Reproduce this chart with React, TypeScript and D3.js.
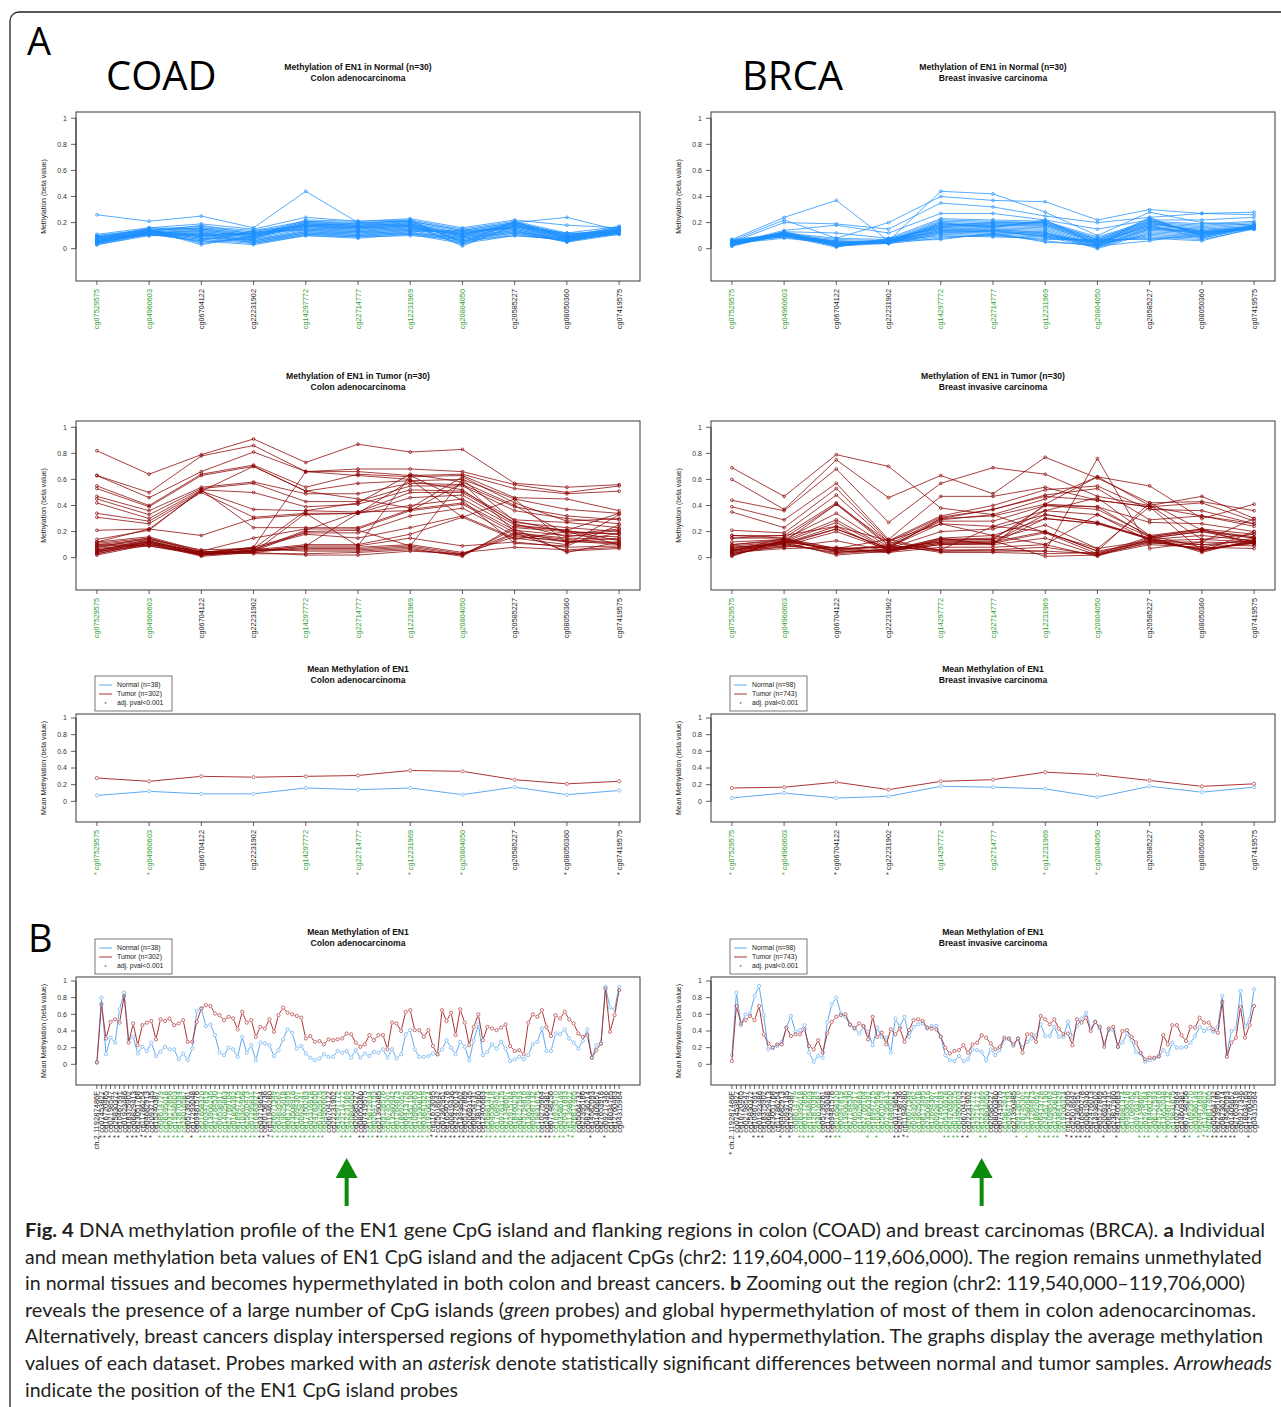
import React from "react";
import * as d3 from "d3";

// ---------- data: panel A (11 probes around the EN1 CpG island) ----------
const probes = ["cg07529575", "cg04960603", "cg06704122", "cg22231902", "cg14297772", "cg22714777",
  "cg12231969", "cg20804050", "cg20585227", "cg08050360", "cg07419575"];
const islandProbes = ["cg07529575", "cg04960603", "cg14297772", "cg22714777", "cg12231969", "cg20804050"];

// individual samples (n=30), beta values per probe
const normalCoad = [
  [.26, .21, .25, .16, .44, .20, .21, .14, .20, .24, .14],
  [.11, .16, .19, .15, .24, .21, .23, .16, .22, .18, .16],
  [.10, .15, .17, .14, .21, .19, .22, .15, .21, .12, .17],
  [.09, .14, .16, .13, .20, .18, .21, .14, .20, .11, .15],
  [.08, .13, .15, .12, .19, .17, .20, .13, .19, .10, .14],
  [.07, .12, .14, .11, .18, .16, .19, .12, .18, .09, .13],
  [.06, .13, .13, .10, .17, .15, .18, .11, .17, .08, .12],
  [.05, .12, .12, .09, .16, .14, .17, .10, .16, .07, .13],
  [.04, .11, .11, .08, .15, .13, .16, .09, .15, .06, .12],
  [.03, .10, .10, .07, .14, .12, .15, .08, .14, .05, .11],
  [.08, .14, .09, .06, .13, .11, .14, .07, .13, .08, .14],
  [.07, .13, .08, .05, .12, .10, .13, .06, .12, .07, .13],
  [.06, .12, .07, .04, .11, .09, .12, .05, .11, .06, .12],
  [.05, .11, .06, .03, .10, .08, .11, .04, .10, .07, .13],
  [.04, .12, .05, .08, .18, .17, .18, .03, .17, .08, .14],
  [.09, .15, .04, .09, .19, .18, .19, .02, .18, .09, .15],
  [.10, .14, .03, .10, .17, .16, .17, .10, .19, .10, .16],
  [.08, .13, .11, .11, .16, .15, .16, .11, .20, .11, .14],
  [.07, .12, .10, .12, .15, .14, .15, .12, .17, .09, .13],
  [.06, .14, .09, .13, .14, .13, .14, .13, .16, .08, .12],
  [.05, .13, .08, .07, .13, .12, .13, .14, .15, .07, .11],
  [.04, .12, .13, .06, .12, .11, .12, .09, .14, .06, .12],
  [.03, .11, .12, .05, .11, .10, .11, .08, .13, .05, .13],
  [.09, .10, .11, .04, .10, .09, .10, .07, .12, .06, .14],
  [.08, .15, .14, .08, .20, .19, .20, .06, .10, .07, .15],
  [.07, .16, .15, .09, .21, .20, .21, .05, .21, .08, .16],
  [.06, .14, .16, .10, .22, .21, .22, .04, .20, .09, .17],
  [.05, .13, .18, .11, .19, .18, .19, .11, .19, .10, .14],
  [.04, .12, .07, .12, .18, .17, .18, .10, .18, .11, .13],
  [.06, .11, .06, .14, .17, .16, .17, .09, .17, .12, .12],
];

const tumorCoad = [
  [.82, .64, .79, .91, .73, .87, .81, .83, .57, .54, .56],
  [.63, .50, .78, .86, .66, .68, .68, .66, .56, .50, .55],
  [.63, .46, .66, .81, .66, .66, .63, .64, .53, .49, .51],
  [.55, .40, .64, .71, .54, .64, .62, .63, .46, .45, .36],
  [.53, .39, .63, .70, .51, .57, .59, .60, .45, .37, .34],
  [.47, .36, .54, .58, .49, .49, .57, .56, .39, .32, .29],
  [.45, .33, .53, .57, .43, .43, .55, .55, .36, .30, .26],
  [.42, .30, .52, .50, .39, .41, .52, .51, .29, .27, .23],
  [.34, .28, .51, .37, .36, .35, .50, .50, .27, .23, .20],
  [.31, .26, .50, .31, .34, .34, .46, .48, .25, .21, .34],
  [.21, .22, .17, .30, .33, .34, .40, .45, .23, .20, .18],
  [.14, .21, .52, .23, .23, .23, .37, .42, .21, .17, .16],
  [.12, .16, .05, .15, .22, .22, .36, .41, .19, .15, .14],
  [.11, .15, .04, .08, .19, .19, .32, .38, .17, .12, .12],
  [.10, .14, .06, .07, .18, .15, .23, .32, .15, .10, .33],
  [.09, .13, .03, .06, .10, .10, .18, .31, .14, .20, .10],
  [.08, .12, .02, .05, .09, .09, .15, .09, .12, .08, .09],
  [.07, .11, .01, .04, .08, .08, .10, .04, .08, .06, .08],
  [.06, .10, .03, .05, .07, .07, .09, .03, .19, .05, .07],
  [.05, .09, .02, .06, .06, .06, .08, .02, .22, .04, .12],
  [.04, .12, .04, .07, .05, .05, .07, .01, .24, .21, .13],
  [.03, .11, .05, .03, .03, .04, .06, .02, .18, .14, .11],
  [.02, .10, .03, .04, .02, .02, .05, .03, .16, .13, .10],
  [.04, .13, .02, .05, .20, .21, .09, .60, .28, .20, .18],
  [.05, .14, .03, .06, .21, .35, .36, .57, .20, .12, .15],
  [.06, .12, .04, .05, .09, .34, .59, .52, .26, .16, .21],
  [.03, .11, .02, .04, .34, .09, .63, .44, .11, .09, .25],
  [.10, .09, .03, .08, .66, .63, .60, .31, .45, .11, .19],
  [.08, .15, .04, .07, .36, .42, .64, .58, .40, .18, .22],
  [.12, .22, .51, .70, .51, .45, .38, .62, .42, .28, .30],
];

const normalBrca = [
  [.07, .24, .37, .06, .44, .42, .28, .10, .28, .20, .18],
  [.06, .22, .08, .20, .40, .37, .36, .22, .30, .27, .28],
  [.05, .20, .19, .15, .35, .32, .25, .20, .24, .27, .26],
  [.04, .14, .18, .12, .27, .27, .22, .15, .22, .22, .24],
  [.03, .13, .12, .08, .23, .22, .21, .09, .21, .19, .21],
  [.02, .12, .08, .07, .22, .21, .20, .08, .20, .18, .20],
  [.07, .11, .07, .06, .21, .20, .19, .07, .19, .17, .19],
  [.06, .10, .06, .05, .20, .19, .18, .06, .18, .16, .18],
  [.05, .09, .05, .04, .19, .18, .17, .05, .17, .15, .17],
  [.04, .08, .04, .05, .18, .17, .16, .04, .16, .14, .16],
  [.03, .12, .03, .06, .17, .16, .15, .03, .15, .13, .15],
  [.02, .11, .02, .07, .16, .15, .14, .02, .14, .12, .17],
  [.06, .10, .01, .08, .15, .14, .13, .01, .13, .11, .18],
  [.05, .09, .03, .05, .14, .13, .12, .00, .12, .10, .16],
  [.04, .12, .04, .06, .13, .12, .11, .03, .11, .09, .17],
  [.03, .13, .05, .05, .12, .11, .10, .04, .10, .08, .16],
  [.05, .11, .02, .04, .11, .10, .09, .05, .09, .07, .15],
  [.04, .10, .03, .06, .10, .09, .08, .06, .08, .06, .16],
  [.06, .12, .04, .05, .09, .10, .07, .07, .07, .10, .17],
  [.03, .11, .05, .04, .08, .11, .06, .02, .06, .12, .16],
  [.04, .13, .02, .06, .07, .12, .05, .03, .19, .14, .17],
  [.05, .12, .03, .05, .16, .18, .18, .04, .20, .13, .16],
  [.03, .10, .04, .07, .17, .19, .19, .05, .21, .12, .15],
  [.04, .11, .02, .06, .18, .20, .20, .06, .22, .11, .17],
  [.05, .12, .03, .05, .19, .17, .21, .07, .23, .10, .16],
  [.06, .11, .04, .06, .20, .16, .22, .03, .24, .09, .18],
  [.04, .10, .05, .05, .15, .15, .12, .04, .18, .08, .17],
  [.03, .12, .03, .06, .14, .14, .11, .05, .17, .11, .16],
  [.05, .11, .02, .05, .13, .13, .10, .02, .16, .13, .15],
  [.04, .10, .06, .04, .12, .14, .09, .01, .15, .12, .16],
];

const tumorBrca = [
  [.69, .47, .79, .70, .38, .33, .45, .62, .55, .30, .41],
  [.60, .37, .75, .46, .63, .49, .77, .61, .42, .43, .36],
  [.44, .36, .68, .27, .57, .69, .64, .47, .40, .47, .30],
  [.39, .29, .57, .14, .47, .47, .54, .44, .39, .42, .28],
  [.35, .23, .53, .13, .32, .40, .52, .55, .37, .36, .26],
  [.21, .19, .48, .12, .31, .37, .48, .53, .29, .32, .24],
  [.17, .17, .42, .10, .30, .32, .41, .39, .27, .26, .20],
  [.15, .15, .41, .09, .28, .28, .40, .37, .17, .22, .18],
  [.12, .14, .34, .08, .26, .24, .36, .33, .16, .21, .16],
  [.10, .13, .29, .07, .20, .22, .33, .27, .15, .20, .15],
  [.09, .12, .27, .06, .15, .17, .30, .26, .14, .17, .13],
  [.08, .11, .24, .05, .14, .14, .25, .07, .13, .14, .12],
  [.07, .10, .22, .07, .12, .12, .20, .05, .12, .12, .11],
  [.06, .09, .20, .06, .11, .11, .19, .03, .11, .10, .09],
  [.05, .08, .13, .05, .10, .10, .15, .02, .10, .08, .07],
  [.04, .07, .08, .04, .08, .08, .10, .01, .14, .06, .12],
  [.03, .12, .07, .08, .06, .06, .08, .02, .15, .05, .13],
  [.02, .13, .06, .09, .05, .05, .05, .03, .16, .04, .14],
  [.01, .14, .05, .10, .04, .04, .03, .04, .13, .06, .12],
  [.05, .15, .04, .07, .12, .13, .01, .02, .12, .07, .11],
  [.06, .11, .03, .06, .11, .12, .33, .27, .14, .10, .13],
  [.07, .12, .02, .05, .10, .11, .30, .26, .15, .20, .12],
  [.08, .10, .04, .06, .13, .14, .40, .39, .16, .22, .10],
  [.04, .13, .05, .04, .14, .15, .36, .46, .17, .08, .15],
  [.03, .09, .06, .05, .15, .10, .41, .62, .40, .14, .18],
  [.02, .11, .22, .07, .30, .37, .47, .44, .39, .05, .20],
  [.05, .12, .41, .12, .06, .24, .20, .05, .42, .21, .15],
  [.10, .14, .07, .08, .29, .33, .19, .07, .39, .32, .26],
  [.15, .17, .24, .13, .26, .17, .10, .33, .13, .06, .11],
  [.17, .15, .07, .14, .05, .06, .05, .76, .07, .12, .30],
];

// means per probe
const meanNormalCoad = [.07, .12, .09, .09, .16, .14, .16, .08, .17, .08, .13];
const meanTumorCoad = [.28, .24, .30, .29, .30, .31, .37, .36, .26, .21, .24];
const meanNormalBrca = [.04, .10, .04, .06, .18, .17, .15, .05, .18, .11, .17];
const meanTumorBrca = [.16, .17, .23, .14, .24, .26, .35, .32, .25, .18, .21];
const sigCoadA = ["cg07529575", "cg04960603", "cg22714777", "cg12231969", "cg20804050", "cg08050360", "cg07419575"];
const sigBrcaA = ["cg07529575", "cg04960603", "cg06704122", "cg22231902", "cg12231969", "cg20804050"];

// ---------- data: panel B (zoomed-out region) ----------
const probesB = [
  "ch.2.119287486F", "cg07453827", "cg16720465", "cg02198547", "cg25830372", "cg10467591", "cg01923486", "cg18375902",
  "cg06829413", "cg23051768", "cg11786254", "cg04682913", "cg20937145", "cg15240387", "cg08614729", "cg26395018",
  "cg03172856", "cg19548603", "cg12870394", "cg24016587", "cg05739261", "cg17293048", "cg09481576", "cg21658320",
  "cg00347819", "cg13906245", "cg27184530", "cg06538917", "cg14025863", "cg22769104", "cg01856392", "cg18947215",
  "cg10362958", "cg25610473", "cg07295831", "cg16483027", "cg03719654", "cg20158736", "cg11946280", "cg26071349",
  "cg04839562", "cg19625018", "cg08173495", "cg23508916", "cg12694307", "cg00928741", "cg17450283", "cg05316978",
  "cg24783650", "cg07529575", "cg04960603", "cg06704122", "cg22231902", "cg14297772", "cg22714777", "cg12231969",
  "cg20804050", "cg20585227", "cg08050360", "cg07419575", "cg15872634", "cg02647193", "cg21390485", "cg09128576",
  "cg26745301", "cg13580942", "cg01264873", "cg18692057", "cg06413728", "cg24357190", "cg10985463", "cg27530816",
  "cg03841529", "cg19206374", "cg11673095", "cg25018642", "cg07362951", "cg16540278", "cg00819436", "cg22476013",
  "cg14938502", "cg05127869", "cg20693145", "cg08254731", "cg23817960", "cg12405683", "cg26981374", "cg04536218",
  "cg17089452", "cg09763125", "cg21348607", "cg02915784", "cg18460239", "cg06127593", "cg25794816", "cg13652048",
  "cg00487132", "cg19831675", "cg10275964", "cg24609381", "cg07148256", "cg16923570", "cg03586149", "cg20471893",
  "cg11398627", "cg26817405", "cg05064732", "cg22395186", "cg08736214", "cg14582093", "cg01409657", "cg27653918",
  "cg09217346", "cg18034765", "cg12760483", "cg04315964",
];
const islandRangesB = "14-19,23-35,39-50,53-56,60-61,63-73,86-97,101-105";
const sigRangesCoadB = "1-5,7-12,14-19,21,23-50,54-56,58-105,109,112";
const sigRangesBrcaB = "0,2,5-7,11,13,15-18,21-24,30,32,36-39,47-52,55-56,63,65,68-72,74-79,82,85,90-92,94,96,98,100-101,103-111,114";

const bNormalCoad = [
  .03, .80, .12, .32, .26, .66, .86, .30, .33, .13, .21, .16, .26, .10, .15, .21, .18, .18, .06, .13,
  .05, .19, .64, .67, .46, .48, .35, .14, .11, .20, .18, .09, .33, .14, .23, .05, .26, .25, .23, .10,
  .17, .30, .42, .38, .19, .22, .13, .08, .05,
  .07, .12, .09, .09, .16, .14, .16, .08, .17, .08, .13,
  .10, .15, .14, .18, .08, .18, .07, .12, .36, .41, .18, .09, .09, .10, .13, .12, .18, .29, .20, .12,
  .27, .21, .05, .29, .48, .11, .15, .24, .19, .27, .19, .04, .06, .09, .06, .11, .24, .27, .43, .16,
  .16, .37, .36, .42, .31, .26, .19, .28, .42, .08, .23, .25, .93, .68, .66, .93,
];
const bTumorCoad = [
  .02, .72, .31, .51, .54, .50, .82, .26, .49, .23, .47, .50, .52, .30, .54, .52, .55, .47, .49, .53,
  .27, .27, .51, .67, .71, .70, .61, .59, .53, .57, .55, .42, .63, .50, .53, .33, .45, .43, .54, .39,
  .59, .68, .62, .60, .58, .56, .31, .34, .27,
  .28, .24, .30, .29, .30, .31, .37, .36, .26, .21, .24,
  .35, .29, .35, .35, .18, .50, .49, .40, .63, .65, .41, .41, .33, .41, .22, .12, .65, .52, .62, .35,
  .66, .50, .23, .45, .60, .29, .45, .43, .41, .44, .48, .22, .16, .17, .12, .50, .60, .57, .65, .45,
  .34, .59, .55, .63, .54, .49, .37, .33, .35, .08, .17, .25, .91, .39, .59, .89,
];
const bNormalBrca = [
  .11, .86, .47, .60, .61, .82, .94, .59, .18, .20, .22, .27, .44, .58, .39, .41, .47, .14, .03, .10,
  .08, .50, .72, .80, .61, .57, .47, .44, .37, .45, .39, .23, .44, .33, .32, .14, .55, .45, .57, .33,
  .45, .48, .49, .43, .46, .46, .33, .11, .05,
  .04, .10, .04, .06, .18, .17, .15, .05, .18, .11, .17,
  .30, .30, .22, .31, .20, .27, .31, .35, .48, .34, .34, .45, .33, .33, .51, .32, .46, .55, .62, .43,
  .51, .43, .24, .41, .41, .21, .26, .37, .29, .15, .13, .03, .05, .07, .09, .17, .12, .26, .20, .20,
  .21, .26, .34, .45, .40, .43, .39, .45, .82, .12, .40, .43, .88, .45, .54, .90,
];
const bTumorBrca = [
  .04, .70, .49, .53, .58, .53, .70, .36, .25, .20, .24, .24, .44, .34, .36, .36, .42, .22, .18, .29,
  .14, .37, .51, .57, .59, .60, .48, .43, .49, .46, .30, .57, .33, .38, .24, .42, .36, .43, .27, .41,
  .53, .54, .52, .44, .43, .42, .33, .20, .13,
  .16, .17, .23, .14, .24, .26, .35, .32, .25, .18, .21,
  .32, .31, .24, .31, .14, .36, .36, .27, .58, .54, .48, .54, .43, .36, .37, .23, .54, .50, .56, .40,
  .51, .45, .21, .43, .45, .21, .40, .41, .33, .26, .14, .06, .08, .08, .10, .35, .24, .47, .47, .35,
  .28, .45, .44, .56, .50, .50, .42, .38, .75, .09, .26, .32, .69, .32, .47, .70,
];
const arrowProbe = "cg12231969";

// ---------- caption ----------
type Span = [string, "" | "b" | "i"];
const captionLines: Span[][] = [
  [["Fig. 4", "b"], [" DNA methylation profile of the EN1 gene CpG island and flanking regions in colon (COAD) and breast carcinomas (BRCA). ", ""], ["a", "b"], [" Individual", ""]],
  [["and mean methylation beta values of EN1 CpG island and the adjacent CpGs (chr2: 119,604,000–119,606,000). The region remains unmethylated", ""]],
  [["in normal tissues and becomes hypermethylated in both colon and breast cancers. ", ""], ["b", "b"], [" Zooming out the region (chr2: 119,540,000–119,706,000)", ""]],
  [["reveals the presence of a large number of CpG islands (", ""], ["green", "i"], [" probes) and global hypermethylation of most of them in colon adenocarcinomas.", ""]],
  [["Alternatively, breast cancers display interspersed regions of hypomethylation and hypermethylation. The graphs display the average methylation", ""]],
  [["values of each dataset. Probes marked with an ", ""], ["asterisk", "i"], [" denote statistically significant differences between normal and tumor samples. ", ""], ["Arrowheads", "i"]],
  [["indicate the position of the EN1 CpG island probes", ""]],
];
const captionEnds = [1265, 1262, 1245, 1256, 1263, 1272, 0];

// ---------- styling ----------
const W = 1281, H = 1407;
const PANEL_W = 564;
const COLS = [76, 711];
const FONT = "'Liberation Sans', Arial, Helvetica, sans-serif";
const C_NORMAL = "#1e90ff";
const C_TUMOR = "#8b0000";
const C_NORMAL_MEAN = "#5eaaf0";
const C_TUMOR_MEAN = "#ad3434";
const C_GREEN = "#2f9e2f";
const AXIS = "#3a3a3a";
const Y_TICKS = [0, 0.2, 0.4, 0.6, 0.8, 1];

const expand = (s: string) =>
  new Set(s.split(",").flatMap((p) => {
    const [a, b] = p.split("-").map(Number);
    return d3.range(a, (b ?? a) + 1);
  }));

type Lbl = { text: string; green: boolean };
type Series = { rows: number[][]; color: string; width: number; r: number; gap: number };

// R type="b" style: segments stop short of the points
const gapPath = (pts: [number, number][], gap: number) => {
  if (gap === 0) return d3.line()(pts) ?? "";
  let d = "";
  for (let i = 1; i < pts.length; i++) {
    const [x1, y1] = pts[i - 1], [x2, y2] = pts[i];
    const dx = x2 - x1, dy = y2 - y1, L = Math.hypot(dx, dy);
    if (L <= 2 * gap) continue;
    const ux = dx / L, uy = dy / L;
    d += `M${x1 + ux * gap},${y1 + uy * gap}L${x2 - ux * gap},${y2 - uy * gap}`;
  }
  return d;
};

function Panel(props: {
  left: number; top: number; bottom: number; labels: Lbl[]; series: Series[];
  title: [string, string]; yLabel: string; labelOffset: number; labelSize: number;
  legend?: [string, string];
}) {
  const { left, top, bottom, labels, series, title, yLabel, labelOffset, labelSize, legend } = props;
  const right = left + PANEL_W;
  const n = labels.length;
  const pad = 0.04 * (n - 1);
  const x = d3.scaleLinear().domain([-pad, n - 1 + pad]).range([left, right]);
  const y = d3.scaleLinear().domain([-0.248, 1.048]).range([bottom, top]);
  const cx = (left + right) / 2;
  const fmt = d3.format("~g");

  return (
    <g fontFamily={FONT}>
      <text x={cx} y={top - 42} textAnchor="middle" fontSize={8.6} fontWeight="bold" fill="#111">{title[0]}</text>
      <text x={cx} y={top - 31} textAnchor="middle" fontSize={8.6} fontWeight="bold" fill="#111">{title[1]}</text>

      {legend && (
        <g transform={`translate(${left + 19},${top - 38})`} fontSize={6.8} fill="#222">
          <rect width={77} height={35} fill="white" stroke="#555" strokeWidth={0.8} />
          <line x1={4} x2={17} y1={9} y2={9} stroke={C_NORMAL_MEAN} strokeWidth={1} />
          <line x1={4} x2={17} y1={18} y2={18} stroke={C_TUMOR_MEAN} strokeWidth={1} />
          <text x={10.5} y={29.5} textAnchor="middle" fontSize={5}>*</text>
          <text x={22} y={11.3}>{legend[0]}</text>
          <text x={22} y={20.3}>{legend[1]}</text>
          <text x={22} y={29.3}>adj. pval&lt;0.001</text>
        </g>
      )}

      {/* series */}
      {series.map((s, si) => (
        <g key={si} stroke={s.color} fill="none">
          {s.rows.map((row, ri) => {
            const pts = row.map((v, i) => [x(i), y(v)] as [number, number]);
            return (
              <g key={ri}>
                <path d={gapPath(pts, s.gap)} strokeWidth={s.width} />
                {pts.map(([px, py], i) => (
                  <circle key={i} cx={px} cy={py} r={s.r} strokeWidth={0.7} />
                ))}
              </g>
            );
          })}
        </g>
      ))}

      <rect x={left} y={top} width={PANEL_W} height={bottom - top} fill="none" stroke={AXIS} strokeWidth={1} />

      {/* y axis */}
      <line x1={left} x2={left} y1={y(0)} y2={y(1)} stroke={AXIS} strokeWidth={1} />
      {Y_TICKS.map((t) => (
        <g key={t}>
          <line x1={left - 5} x2={left} y1={y(t)} y2={y(t)} stroke={AXIS} strokeWidth={0.8} />
          <text x={left - 9} y={y(t)} dy="0.35em" textAnchor="end" fontSize={7} fill="#333">{fmt(t)}</text>
        </g>
      ))}
      <text transform={`translate(${left - 30},${(top + bottom) / 2}) rotate(-90)`} textAnchor="middle"
        fontSize={7} fill="#222">{yLabel}</text>

      {/* x axis */}
      {labels.map((l, i) => (
        <g key={i}>
          <line x1={x(i)} x2={x(i)} y1={bottom} y2={bottom + 4} stroke={AXIS} strokeWidth={0.8} />
          <text transform={`translate(${x(i)},${bottom + labelOffset}) rotate(-90)`} textAnchor="end"
            dominantBaseline="central" fontSize={labelSize} fill={l.green ? C_GREEN : "#222"}>{l.text}</text>
        </g>
      ))}
    </g>
  );
}

export default function App() {
  const labelsPlain: Lbl[] = probes.map((p) => ({ text: p, green: islandProbes.includes(p) }));
  const labelsSig = (sig: string[]): Lbl[] =>
    probes.map((p) => ({ text: (sig.includes(p) ? "* " : "") + p, green: islandProbes.includes(p) }));
  const islandB = expand(islandRangesB);
  const labelsB = (sig: Set<number>): Lbl[] =>
    probesB.map((p, i) => ({ text: (sig.has(i) ? "* " : "") + p, green: islandB.has(i) }));

  const ind = (rows: number[][], color: string): Series[] => [{ rows, color, width: 0.75, r: 1.4, gap: 0 }];
  const mean = (nrm: number[], tum: number[]): Series[] => [
    { rows: [nrm], color: C_NORMAL_MEAN, width: 1, r: 1.6, gap: 2.2 },
    { rows: [tum], color: C_TUMOR_MEAN, width: 1, r: 1.6, gap: 2.2 },
  ];

  const cols = [
    {
      left: COLS[0], head: "COAD", headX: 106, tissue: "Colon adenocarcinoma",
      normal: normalCoad, tumor: tumorCoad, mN: meanNormalCoad, mT: meanTumorCoad, sigA: sigCoadA,
      bN: bNormalCoad, bT: bTumorCoad, sigB: expand(sigRangesCoadB), legend: ["Normal (n=38)", "Tumor (n=302)"] as [string, string],
    },
    {
      left: COLS[1], head: "BRCA", headX: 742, tissue: "Breast invasive carcinoma",
      normal: normalBrca, tumor: tumorBrca, mN: meanNormalBrca, mT: meanTumorBrca, sigA: sigBrcaA,
      bN: bNormalBrca, bT: bTumorBrca, sigB: expand(sigRangesBrcaB), legend: ["Normal (n=98)", "Tumor (n=743)"] as [string, string],
    },
  ];

  const nB = probesB.length;
  const padB = 0.04 * (nB - 1);

  return (
    <svg width={W} height={H} viewBox={`0 0 ${W} ${H}`} style={{ position: "absolute", left: 0, top: 0, background: "white" }}>
      <rect x={10} y={12} width={W + 40} height={H + 40} rx={9} fill="white" stroke="#222" strokeWidth={1.3} />
      <text x={27} y={55} fontFamily="'Open Sans', sans-serif" fontSize={38} fill="#000">A</text>
      <text x={28} y={952} fontFamily="'Open Sans', sans-serif" fontSize={38} fill="#000">B</text>

      {cols.map((c, ci) => {
        const xB = d3.scaleLinear().domain([-padB, nB - 1 + padB]).range([c.left, c.left + PANEL_W]);
        const ax = xB(probesB.indexOf(arrowProbe));
        return (
          <g key={ci}>
            <text x={c.headX} y={90} fontFamily="'Open Sans', sans-serif" fontSize={40} fill="#000">{c.head}</text>
            <Panel left={c.left} top={112} bottom={281} labels={labelsPlain} series={ind(c.normal, C_NORMAL)}
              title={["Methylation of EN1 in Normal (n=30)", c.tissue]} yLabel="Methylation (beta value)"
              labelOffset={8} labelSize={7.3} />
            <Panel left={c.left} top={421} bottom={590} labels={labelsPlain} series={ind(c.tumor, C_TUMOR)}
              title={["Methylation of EN1 in Tumor (n=30)", c.tissue]} yLabel="Methylation (beta value)"
              labelOffset={8} labelSize={7.3} />
            <Panel left={c.left} top={714} bottom={822} labels={labelsSig(c.sigA)} series={mean(c.mN, c.mT)}
              title={["Mean Methylation of EN1", c.tissue]} yLabel="Mean Methylation (beta value)"
              labelOffset={8} labelSize={7.3} legend={c.legend} />
            <Panel left={c.left} top={977} bottom={1085} labels={labelsB(c.sigB)} series={mean(c.bN, c.bT)}
              title={["Mean Methylation of EN1", c.tissue]} yLabel="Mean Methylation (beta value)"
              labelOffset={6} labelSize={7.6} legend={c.legend} />
            {/* arrowhead marking the EN1 CpG island probes */}
            <g fill="#0b8a0b">
              <rect x={ax - 2} y={1174} width={4} height={32} />
              <path d={`M${ax},1158L${ax + 11},1178L${ax - 11},1178Z`} />
            </g>
          </g>
        );
      })}

      <g fontFamily="Lato, 'Open Sans', sans-serif" fontSize={19.5} fill="#231f20">
        {captionLines.map((spans, li) => {
          const end = captionEnds[li];
          return (
            <text key={li} x={25} y={1237 + li * 26.6}
              {...(end ? { textLength: end - 25, lengthAdjust: "spacingAndGlyphs" } : {})}>
              {spans.map(([t, s], si) => (
                <tspan key={si} fontWeight={s === "b" ? "bold" : undefined} fontStyle={s === "i" ? "italic" : undefined}>{t}</tspan>
              ))}
            </text>
          );
        })}
      </g>
    </svg>
  );
}
